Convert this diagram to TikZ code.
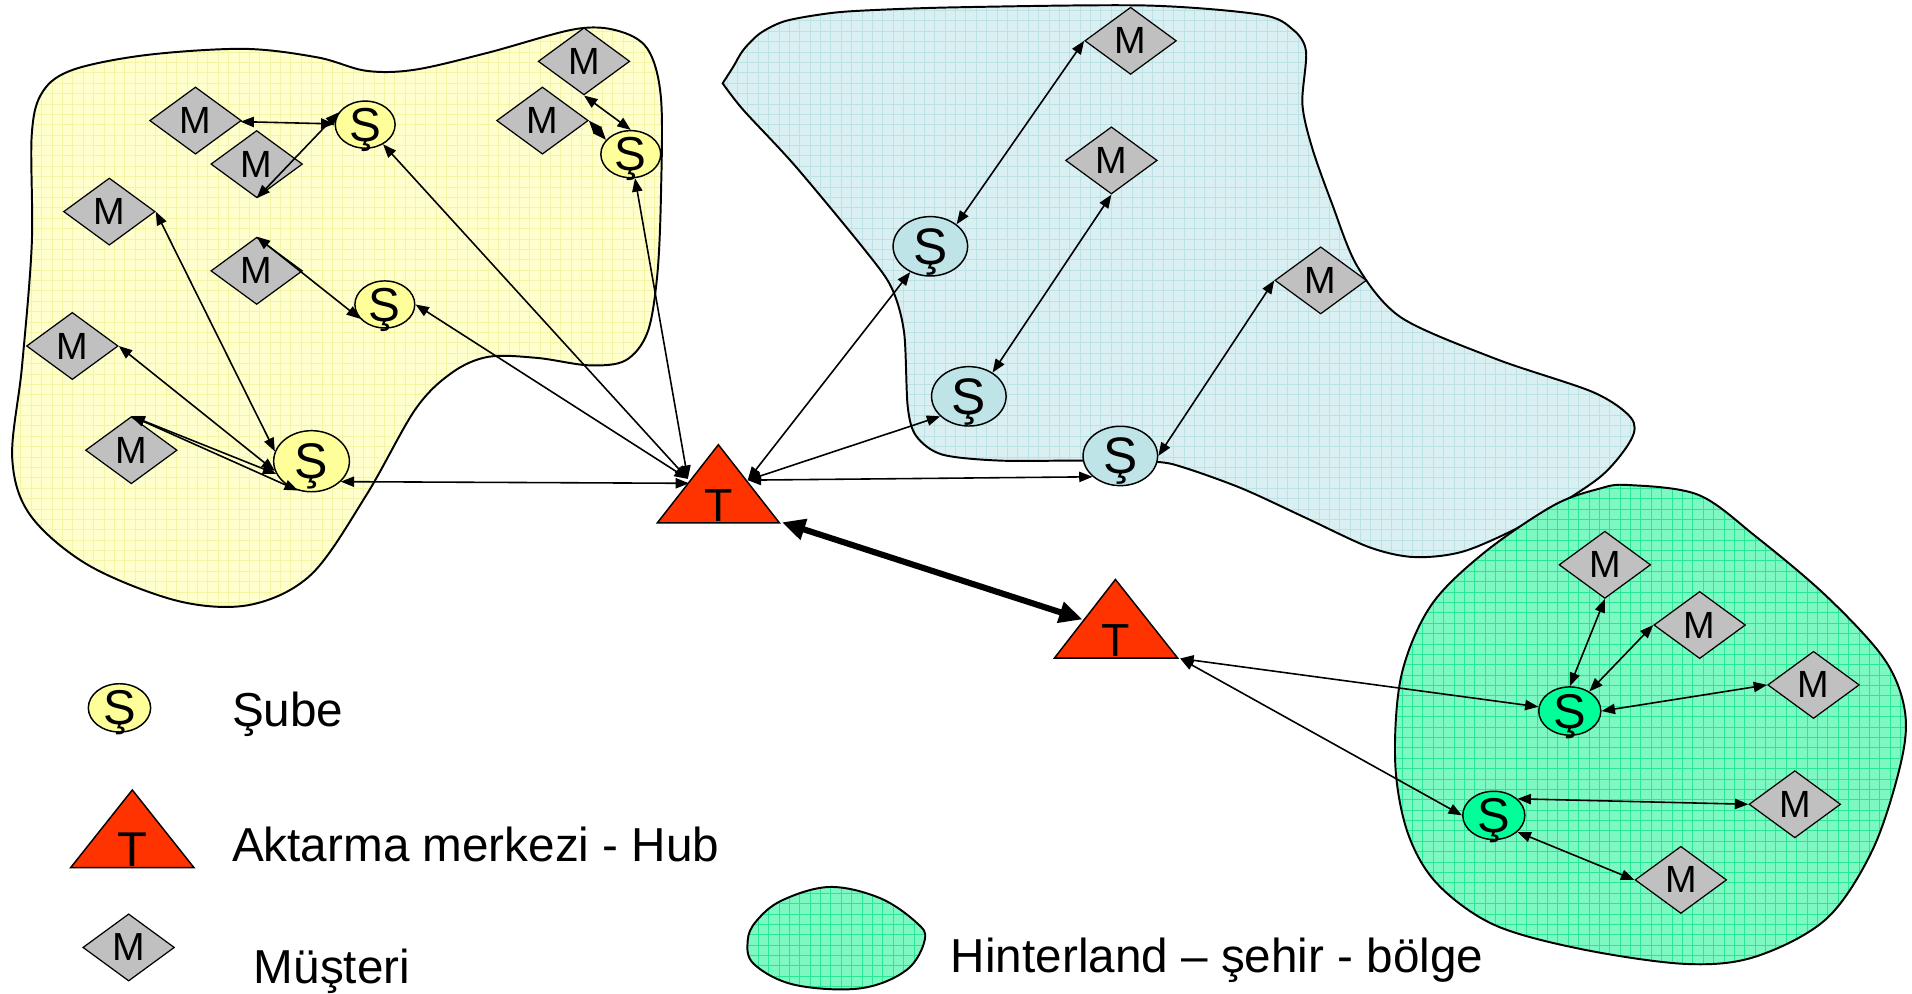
\documentclass[tikz,border=0pt]{standalone}
\usepackage{fontspec}
\setmainfont{Liberation Sans}
\usetikzlibrary{shapes.geometric,arrows.meta}
\definecolor{yblob}{RGB}{255,255,205}
\definecolor{ygrid}{RGB}{244,244,165}
\definecolor{bblob}{RGB}{218,239,241}
\definecolor{bgrid}{RGB}{188,226,229}
\definecolor{gblob}{RGB}{125,248,195}
\definecolor{ggrid}{RGB}{40,232,150}
\definecolor{ynode}{RGB}{255,255,153}
\definecolor{bnode}{RGB}{190,228,232}
\definecolor{gnode}{RGB}{0,255,153}
\definecolor{mgray}{RGB}{192,192,192}
\definecolor{hubred}{RGB}{255,51,0}
\newcommand\yblobpath{plot[smooth cycle,tension=0.55] coordinates {
 (35,75) (60,57) (120,45) (200,40) (260,47) (300,58) (340,57) (400,43) (470,24) (505,25) (530,40)
 (541,80) (541,160) (538,225) (530,272) (512,295) (482,299) (440,293) (400,292) (370,305)
 (340,335) (300,405) (255,470) (205,495) (146,492) (73,463) (25,422) (10,375) (18,300) (26,200) (26,110)}}
\newcommand\bblobpath{plot[smooth,tension=0.5] coordinates {
 (591.5,68.2) (600.2,54.6) (608.4,40.9) (622.1,27.3) (641.2,17.7) (668.5,12.3) (700,9) (782,6) (938,4.5) (1032,12) (1058,24) (1069,42) (1066,85)
 (1074,121) (1090,166) (1111,218) (1147,260) (1225,294) (1304,321) (1335,342) (1335,360)
 (1309,391) (1252,427) (1199,451) (1158,456) (1121,448) (1069,424) (1017,400) (970,383)
 (946,378) (886,377) (818,377) (771,372) (750,357) (743,333) (740,272) (730,236) (709,206) (651,136) (608.4,90) (591.5,68.2)}}
\newcommand\gblobpath{plot[smooth cycle,tension=0.55] coordinates {
 (1333,397) (1390,405) (1437,439) (1495,488) (1542,539) (1559,581) (1556,624) (1533,695)
 (1495,752) (1437,783) (1380,789) (1295,777) (1223,757) (1176,723) (1152,681) (1142,624)
 (1147,553) (1171,496) (1214,453) (1271,414) (1309,400)}}
\newcommand\lblobpath{plot[smooth cycle,tension=0.6] coordinates {
 (679,726) (720,735) (750,755) (757,769) (742,794) (704,809) (650,806) (617,789) (612,770) (619,754) (640,737)}}
\begin{document}
\begin{tikzpicture}[x=0.5pt,y=-0.5pt,
  arr/.style={line width=0.65pt,{Triangle[length=5.5pt,width=4.2pt]}-{Triangle[length=5.5pt,width=4.2pt]}},
  fatarr/.style={line width=2.5pt,{Triangle[length=9.5pt,width=8.5pt]}-{Triangle[length=9.5pt,width=8.5pt]}},
  blob/.style={draw=black,line width=0.8pt},
  gridl/.style={line width=0.25pt},
  cust/.style={diamond,draw=black,line width=0.5pt,fill=mgray,minimum width=37.5pt,minimum height=27.5pt,inner sep=0pt,font=\fontsize{15.5}{15.5}\selectfont,text depth=0pt},
  sube/.style={ellipse,draw=black,line width=0.6pt,inner sep=0pt,text depth=0pt},
  ysube/.style={sube,fill=ynode,minimum width=24.5pt,minimum height=18.5pt,font=\fontsize{19.5}{19.5}\selectfont},
  bsube/.style={sube,fill=bnode,minimum width=30.5pt,minimum height=24.3pt,font=\fontsize{21}{21}\selectfont},
  gsube/.style={sube,fill=gnode,minimum width=25.4pt,minimum height=18.1pt,font=\fontsize{20}{20}\selectfont},
  hub/.style={fill=hubred,draw=black,line width=0.6pt},
  hubtxt/.style={anchor=base,inner sep=0pt,font=\fontsize{19}{19}\selectfont},
  legtxt/.style={anchor=base west,inner sep=0pt,font=\fontsize{19.5}{20}\selectfont},
]
\useasboundingbox (0,0) rectangle (1565,813.6);

% regions
\fill[yblob] \yblobpath;
\begin{scope}\clip \yblobpath; \draw[gridl,ygrid] (0,0) grid[step=4.25pt] (560,510);\end{scope}
\draw[blob] \yblobpath;
\fill[bblob] \bblobpath -- cycle;
\begin{scope}\clip \bblobpath -- cycle; \draw[gridl,bgrid] (585,0) grid[step=4.25pt] (1345,465);\end{scope}
\draw[blob] \bblobpath -- cycle;
\fill[gblob] \gblobpath;
\begin{scope}\clip \gblobpath; \draw[gridl,ggrid] (1135,390) grid[step=4.25pt] (1565,800);\end{scope}
\draw[blob] \gblobpath;

% hubs
\filldraw[hub] (588,364) -- (638,428) -- (538,428) -- cycle;
\node[hubtxt] (T1) at (588,427) {T};
\filldraw[hub] (913,474.3) -- (964,538.7) -- (863,538.7) -- cycle;
\node[hubtxt] (T2) at (913.5,537.5) {T};
\coordinate (T1L) at (563,392);
\coordinate (T1Lb) at (564,395.6);
\coordinate (T1R) at (612,393);
\coordinate (T1BR) at (640,427.5);
\coordinate (T2L) at (886,507);
\coordinate (T2R) at (966,539);

% customers
\node[cust] (D1) at (160,98.7) {M};
\node[cust] (D2) at (210.1,134.3) {M};
\node[cust] (D3) at (89.5,173.2) {M};
\node[cust] (D4) at (210.1,221.7) {M};
\node[cust] (D5) at (59.2,283.2) {M};
\node[cust] (D6) at (107.5,368.5) {M};
\node[cust] (D7) at (478,50.2) {M};
\node[cust] (D8) at (444,98.7) {M};
\node[cust] (BD1) at (925.4,33.4) {M};
\node[cust] (BD2) at (909.7,131.3) {M};
\node[cust] (BD3) at (1081,229.5) {M};
\node[cust] (GD1) at (1313.6,462.3) {M};
\node[cust] (GD2) at (1391.2,511.6) {M};
\node[cust] (GD3) at (1484.4,560.6) {M};
\node[cust] (GD4) at (1469.1,658.3) {M};
\node[cust] (GD5) at (1375.8,720.2) {M};

% branches
\node[ysube] (Y1) at (298.9,102) {Ş};
\node[ysube] (Y2) at (516.3,126.2) {Ş};
\node[ysube] (Y3) at (315,249.2) {Ş};
\node[ysube,minimum width=31pt,minimum height=25pt,font=\fontsize{20.5}{20.5}\selectfont] (Y4) at (255,377.5) {Ş};
\node[bsube] (B1) at (761.5,201.6) {Ş};
\node[bsube] (B2) at (793,324.4) {Ş};
\node[bsube] (B3) at (917,373.2) {Ş};
\node[gsube] (G1) at (1284.9,582) {Ş};
\node[gsube] (G2) at (1222.7,667.4) {Ş};

% connectors
\draw[arr] (D1) -- (Y1);
\draw[arr] (D2.south) -- (Y1.155);
\draw[arr] (D3.east) -- (Y4.165);
\draw[arr] (D5.east) -- (Y4.195);
\draw[arr] (D6.north) -- (Y4.200);
\draw[arr] (D6.north) -- (Y4.245);
\draw[arr] (D4.north) -- (Y3.210);
\draw[arr] (D7.south) -- (Y2.north);
\draw[arr] (D8.east) -- (Y2.150);
\draw[arr] (Y1) -- (T1L);
\draw[arr] (Y2) -- (T1L);
\draw[arr] (Y3.east) -- (T1L);
\draw[arr] (Y4.-35) -- (T1Lb);
\draw[arr] (T1R) -- (B1);
\draw[arr] (T1R) -- (B2.215);
\draw[arr] (T1R) -- (B3.217);
\draw[arr] (B1.40) -- (BD1.west);
\draw[arr] (B2.45) -- (BD2.south);
\draw[arr] (B3.east) -- (BD3.west);
\draw[arr] (T2R) -- (G1);
\draw[arr] (T2R) -- (G2.west);
\draw[arr] (G1.north) -- (GD1.south);
\draw[arr] (G1.45) -- (GD2.west);
\draw[arr] (G1.east) -- (GD3.west);
\draw[arr] (G2.35) -- (GD4.west);
\draw[arr] (G2.-35) -- (GD5.west);
\draw[fatarr] (T1BR) -- (T2L);

% legend
\node[sube,fill=ynode,minimum width=25.5pt,minimum height=18.7pt,font=\fontsize{20}{20}\selectfont] (LS) at (97.8,579.4) {Ş};
\node[legtxt] (LSt) at (189.6,594.8) {Şube};
\filldraw[hub] (108.3,646.6) -- (158.8,710.2) -- (57.8,710.2) -- cycle;
\node[hubtxt,font=\fontsize{20}{20}\selectfont] (LT) at (108.3,709) {T};
\node[legtxt] (LTt) at (189.6,705.3) {Aktarma merkezi - Hub};
\node[cust,font=\fontsize{16}{16}\selectfont] (LM) at (105.3,775.5) {M};
\node[legtxt] (LMt) at (207.4,804.9) {Müşteri};
\fill[gblob] \lblobpath;
\begin{scope}\clip \lblobpath; \draw[gridl,ggrid] (605,720) grid[step=4.25pt] (765,815);\end{scope}
\draw[blob] \lblobpath;
\node[legtxt] (LHt) at (778,795.7) {Hinterland – şehir - bölge};
\end{tikzpicture}
\end{document}
